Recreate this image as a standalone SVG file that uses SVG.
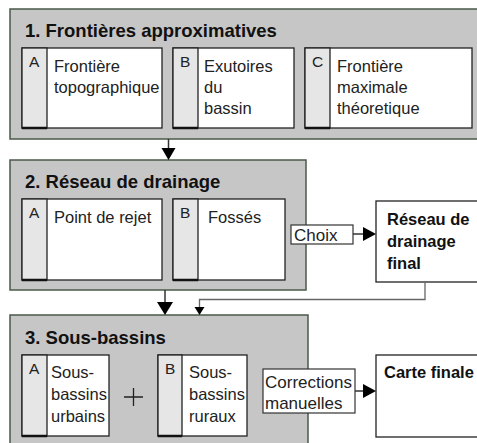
<svg xmlns="http://www.w3.org/2000/svg" width="477" height="443" viewBox="0 0 477 443">
<defs>
<style>
.sec{fill:#c6c6c6;stroke:#4a5a48;stroke-width:1.5}
.box{fill:#fff;stroke:#222;stroke-width:1.3}
.col{fill:#e6e6e6;stroke:#222;stroke-width:1.3}
.shd{stroke:#111;stroke-width:2.5}
.ttl{font-family:"Liberation Sans",Arial,sans-serif;font-weight:bold;font-size:18.5px;fill:#111}
.t{font-family:"Liberation Sans",Arial,sans-serif;font-size:16.5px;fill:#222}
.ltr{font-family:"Liberation Sans",Arial,sans-serif;font-size:15.5px;fill:#222}
.tb{font-family:"Liberation Sans",Arial,sans-serif;font-weight:bold;font-size:16.5px;fill:#111}
.tl{font-family:"Liberation Sans",Arial,sans-serif;font-size:17px;fill:#222}
.lbl{fill:#fff;stroke:#333;stroke-width:1.2}
.ln{fill:none;stroke:#333;stroke-width:1.5}
.gl{fill:none;stroke:#666;stroke-width:1.3}
</style>
</defs>
<rect width="477" height="443" fill="#fff"/>

<g id="section1">
<rect class="sec" x="10" y="9" width="470" height="130"/>
<text class="ttl" x="25" y="37">1. Frontières approximatives</text>
</g>
<g id="s1A">
<rect class="box" x="22" y="48" width="140" height="80"/>
<rect class="col" x="22" y="48" width="25" height="80"/>
<line class="shd" x1="22" y1="128" x2="47" y2="128"/>
<text class="ltr" x="29" y="67">A</text>
<text class="t" x="54" y="72">Frontière</text>
<text class="t" x="54" y="93">topographique</text>
</g>
<g id="s1B">
<rect class="box" x="173" y="48" width="121" height="80"/>
<rect class="col" x="173" y="48" width="25" height="80"/>
<line class="shd" x1="173" y1="128" x2="198" y2="128"/>
<text class="ltr" x="180" y="67">B</text>
<text class="t" x="204" y="72">Exutoires</text>
<text class="t" x="204" y="93">du</text>
<text class="t" x="204" y="114">bassin</text>
</g>
<g id="s1C">
<rect class="box" x="305" y="48" width="167" height="80"/>
<rect class="col" x="305" y="48" width="25" height="80"/>
<line class="shd" x1="305" y1="128" x2="330" y2="128"/>
<text class="ltr" x="312" y="67">C</text>
<text class="t" x="337" y="72">Frontière</text>
<text class="t" x="337" y="93">maximale</text>
<text class="t" x="337" y="114">théoretique</text>
</g>

<g id="section2">
<rect class="sec" x="10" y="160" width="296" height="130"/>
<text class="ttl" x="25" y="188">2. Réseau de drainage</text>
</g>
<g id="s2A">
<rect class="box" x="22" y="199" width="140" height="81"/>
<rect class="col" x="22" y="199" width="25" height="81"/>
<line class="shd" x1="22" y1="280" x2="47" y2="280"/>
<text class="ltr" x="29" y="218">A</text>
<text class="t" x="54" y="223">Point de rejet</text>
</g>
<g id="s2B">
<rect class="box" x="173" y="199" width="112" height="81"/>
<rect class="col" x="173" y="199" width="25" height="81"/>
<line class="shd" x1="173" y1="280" x2="198" y2="280"/>
<text class="ltr" x="180" y="218">B</text>
<text class="t" x="208" y="223">Fossés</text>
</g>
<g id="reseauFinal">
<rect class="box" x="376" y="201" width="110" height="81"/>
<text class="tb" x="387" y="225">Réseau de</text>
<text class="tb" x="387" y="247">drainage</text>
<text class="tb" x="387" y="269">final</text>
</g>

<g id="section3">
<rect class="sec" x="10" y="315" width="298" height="140"/>
<text class="ttl" x="25" y="344">3. Sous-bassins</text>
</g>
<g id="s3A">
<rect class="box" x="22" y="355" width="87" height="81"/>
<rect class="col" x="22" y="355" width="25" height="81"/>
<line class="shd" x1="22" y1="436" x2="47" y2="436"/>
<text class="ltr" x="29" y="374">A</text>
<text class="t" x="51" y="378">Sous-</text>
<text class="t" x="51" y="400">bassins</text>
<text class="t" x="51" y="422">urbains</text>
</g>
<g id="plus">
<path d="M124 397 H143 M133.5 388 V406" fill="none" stroke="#222" stroke-width="1.3"/>
</g>
<g id="s3B">
<rect class="box" x="158" y="355" width="89" height="81"/>
<rect class="col" x="158" y="355" width="24" height="81"/>
<line class="shd" x1="158" y1="436" x2="182" y2="436"/>
<text class="ltr" x="165" y="374">B</text>
<text class="t" x="189" y="378">Sous-</text>
<text class="t" x="189" y="400">bassins</text>
<text class="t" x="189" y="422">ruraux</text>
</g>
<g id="carteFinale">
<rect class="box" x="376" y="355" width="110" height="82"/>
<text class="tb" x="384" y="378">Carte finale</text>
</g>

<g id="connectors">
<line class="ln" x1="168.5" y1="139" x2="168.5" y2="149"/>
<path d="M161.5 148 L175.5 148 L168.5 160 Z" fill="#000"/>
<line class="ln" x1="165" y1="290" x2="165" y2="303"/>
<path d="M157 302 L173 302 L165 315 Z" fill="#000"/>
<path class="gl" d="M425 282 V299.5 H199.5 V308"/>
<path d="M194.5 307 L204.5 307 L199.5 315 Z" fill="#000"/>
<line class="ln" x1="353" y1="234" x2="364" y2="234"/>
<path d="M363 227 L376 234 L363 241 Z" fill="#000"/>
<line class="ln" x1="355" y1="391" x2="364" y2="391"/>
<path d="M363 384 L376 391 L363 398 Z" fill="#000"/>
<g id="choix">
<rect class="lbl" x="291" y="225" width="62" height="19"/>
<text class="tl" x="294" y="240.5">Choix</text>
</g>
<g id="corrections">
<rect class="lbl" x="263" y="369" width="92" height="44"/>
<text class="tl" x="265" y="388">Corrections</text>
<text class="tl" x="265" y="409">manuelles</text>
</g>
</g>
</svg>
